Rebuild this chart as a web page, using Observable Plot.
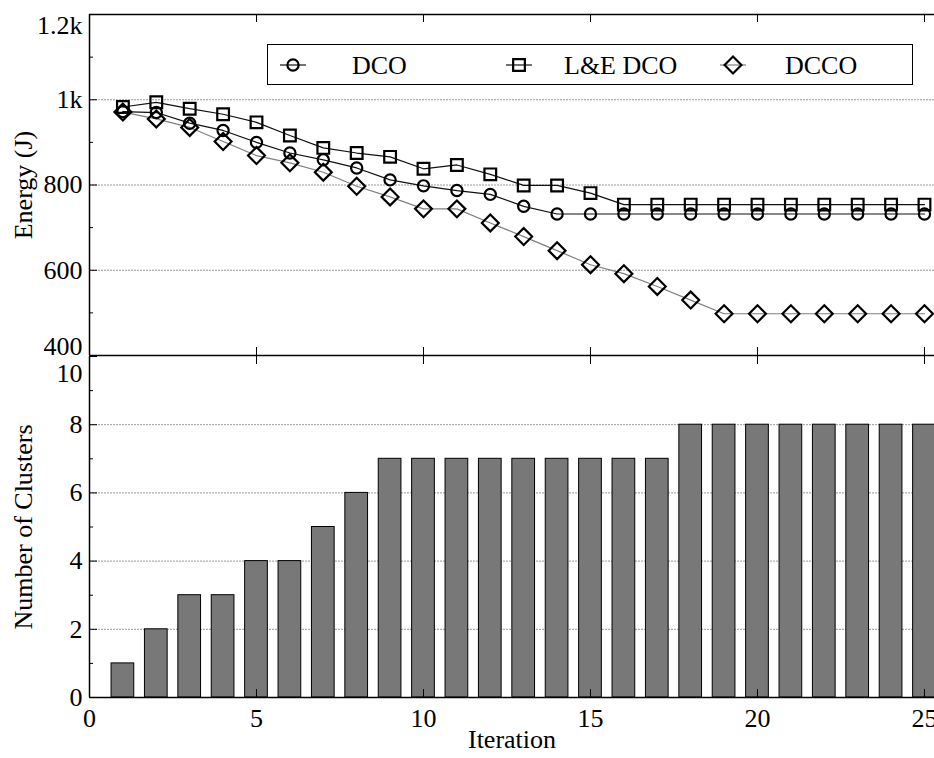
<!DOCTYPE html>
<html><head><meta charset="utf-8">
<script src="https://cdn.jsdelivr.net/npm/d3@7"></script>
<script src="https://cdn.jsdelivr.net/npm/@observablehq/plot@0.6"></script>
<style>
body{margin:0;background:#fff;}
#wrap{position:relative;width:934px;height:758px;overflow:hidden;font-family:"Liberation Serif","Times New Roman",serif;}
#wrap svg{display:block;font-family:"Liberation Serif","Times New Roman",serif !important;}
#wrap svg text{font-family:"Liberation Serif","Times New Roman",serif !important;}
#legend{position:absolute;left:267px;top:44px;width:646px;height:41px;border:1px solid #000;background:#fff;box-sizing:border-box;}
#legend .item{position:absolute;top:0;height:41px;display:flex;align-items:center;font-size:26px;color:#000;}
#legend svg{position:absolute;}
</style></head><body><div id="wrap"></div>
<script>
// ---- data ----
const iterations = [1,2,3,4,5,6,7,8,9,10,11,12,13,14,15,16,17,18,19,20,21,22,23,24,25];
const dco   = [972,970,945,928,900,875,859,840,812,798,787,778,750,732,732,732,732,732,732,732,732,732,732,732,732];
const leDco = [983,994,979,966,947,916,887,875,866,838,847,825,799,799,781,754,754,754,754,754,754,754,754,754,754];
const dcco  = [971,955,935,902,869,852,830,797,772,744,744,711,679,646,613,592,562,530,498,498,498,498,498,498,498];
const clusters = [1,2,3,3,4,4,5,6,7,7,7,7,7,7,7,7,7,8,8,8,8,8,8,8,8];
const seriesNames = ["DCO","L&E DCO","DCCO"];
const energyTicks = [400,600,800,1000,1200];
const energyTickLabels = ["400","600","800","1k","1.2k"];
const energyMinor = [500,700,900,1100];
const clusterTicks = [0,2,4,6,8,10];
const clusterMinor = [1,3,5,7,9];
const xTicks = [0,5,10,15,20,25];

// ---- layout ----
const FONT = '"Liberation Serif","Times New Roman",serif';
const FS = 26;
const STYLE = `font-family: ${FONT}; font-size: ${FS}px; background: white; color: black; overflow: visible;`;
const txt = {fontFamily: "Liberation Serif", fontSize: FS};
const W = 934, ML = 89;
const xDomain = [0, 25.3];
const topH = 356, topMT = 14, topMB = 1;
const botH = 402, botMT = 0, botMB = 61;
const topFrameH = topH - topMT - topMB;
const botFrameH = botH - botMT - botMB;
const frameW = W - ML;
const majorLen = 8, minorLen = 4;
const grid = {stroke:"#9a9a9a", strokeDasharray:"2,1", strokeWidth:1};
const eLabel = d => energyTickLabels[energyTicks.indexOf(d)];

const rows = (vals) => iterations.map((x,i)=>({x, y: vals[i]}));
const dcoRows = rows(dco), leRows = rows(leDco), dccoRows = rows(dcco);
const clusterRows = rows(clusters);

const topPlot = Plot.plot({
  width: W, height: topH, marginLeft: ML, marginRight: 0, marginTop: topMT, marginBottom: topMB,
  style: STYLE,
  x: {domain: xDomain, axis: null},
  y: {domain: [400, 1200], axis: null},
  marks: [
    Plot.ruleY(energyTicks.filter(d => d > 400 && d < 1200), grid),
    Plot.tickY(energyTicks, {insetRight: frameW - majorLen, stroke: "black"}),
    Plot.tickY(energyMinor, {insetRight: frameW - minorLen, stroke: "black"}),
    Plot.tickX(xTicks, {insetTop: topFrameH - majorLen, stroke: "black"}),
    Plot.tickX(xTicks, {insetBottom: topFrameH - majorLen, stroke: "black"}),
    Plot.ruleY([400, 1200], {stroke: "black", strokeWidth: 1.5}),
    Plot.ruleX([0], {stroke: "black", strokeWidth: 1.5}),
    Plot.line(dccoRows, {x: "x", y: "y", stroke: "#808080", strokeWidth: 1.2}),
    Plot.line(dcoRows, {x: "x", y: "y", stroke: "#111", strokeWidth: 1.2}),
    Plot.line(leRows, {x: "x", y: "y", stroke: "#111", strokeWidth: 1.2}),
    Plot.dot(dccoRows, {x: "x", y: "y", symbol: d3.symbolDiamond2, r: 7.6, stroke: "black", strokeWidth: 2.2, fill: "none"}),
    Plot.dot(leRows, {x: "x", y: "y", symbol: "square", r: 6.6, stroke: "black", strokeWidth: 2.2, fill: "none"}),
    Plot.dot(dcoRows, {x: "x", y: "y", symbol: "circle", r: 5.6, stroke: "black", strokeWidth: 2.2, fill: "none"}),
    Plot.axisY({ticks: [600, 800, 1000], tickFormat: eLabel, tickSize: 0, tickPadding: 7, label: null, ...txt}),
    Plot.axisY({ticks: [1200], tickFormat: eLabel, tickSize: 0, tickPadding: 7, dy: 11, label: null, ...txt}),
    Plot.axisY({ticks: [400], tickFormat: eLabel, tickSize: 0, tickPadding: 7, dy: -9, label: null, ...txt}),
    Plot.text(["Energy (J)"], {frameAnchor: "left", textAnchor: "middle", rotate: -90, dx: -66, fill: "black", ...txt})
  ]
});

const botPlot = Plot.plot({
  width: W, height: botH, marginLeft: ML, marginRight: 0, marginTop: botMT, marginBottom: botMB,
  style: STYLE,
  x: {domain: xDomain, axis: null},
  y: {domain: [0, 10], axis: null},
  marks: [
    Plot.ruleY([2, 4, 6, 8], grid),
    Plot.rectY(clusterRows, {x1: d => d.x - 0.34, x2: d => d.x + 0.34, y: "y", fill: "#787878", stroke: "black", strokeWidth: 1}),
    Plot.tickY(clusterTicks, {insetRight: frameW - majorLen, stroke: "black"}),
    Plot.tickY(clusterMinor, {insetRight: frameW - minorLen, stroke: "black"}),
    Plot.tickX(xTicks, {insetTop: botFrameH - majorLen, stroke: "black"}),
    Plot.tickX(xTicks, {insetBottom: botFrameH - majorLen, stroke: "black"}),
    Plot.ruleY([0], {stroke: "black", strokeWidth: 1.5}),
    Plot.ruleX([0], {stroke: "black", strokeWidth: 1.5}),
    Plot.axisY({ticks: [0, 2, 4, 6, 8], tickSize: 0, tickPadding: 7, label: null, ...txt}),
    Plot.axisY({ticks: [10], tickSize: 0, tickPadding: 7, dy: 17, label: null, ...txt}),
    Plot.axisX({ticks: xTicks, tickSize: 0, tickPadding: 11, label: null, ...txt}),
    Plot.text(["Number of Clusters"], {frameAnchor: "left", textAnchor: "middle", rotate: -90, dx: -66, fill: "black", ...txt}),
    Plot.text(["Iteration"], {frameAnchor: "bottom", dy: 50, fill: "black", ...txt})
  ]
});

const wrap = document.getElementById("wrap");
wrap.appendChild(topPlot);
wrap.appendChild(botPlot);

// ---- legend (HTML overlay) ----
const legend = document.createElement("div");
legend.id = "legend";
const legendItems = [
  {name: seriesNames[0], sym: d3.symbolCircle, r: 5.6, line: "#111", sx: 25, tx: 84},
  {name: seriesNames[1], sym: d3.symbolSquare, r: 6.6, line: "#111", sx: 251, tx: 296},
  {name: seriesNames[2], sym: d3.symbolDiamond2, r: 7.6, line: "#808080", sx: 465, tx: 517}
];
for (const it of legendItems) {
  const svg = d3.create("svg").attr("width", 40).attr("height", 30)
    .style("left", (it.sx - 20) + "px").style("top", "5px");
  svg.append("line").attr("x1", 7).attr("x2", 33).attr("y1", 15).attr("y2", 15)
    .attr("stroke", it.line).attr("stroke-width", 1.2);
  svg.append("path").attr("d", d3.symbol(it.sym, Math.PI * it.r * it.r)())
    .attr("transform", "translate(20,15)").attr("fill", "none").attr("stroke", "black").attr("stroke-width", 2.2);
  legend.appendChild(svg.node());
  const t = document.createElement("div");
  t.className = "item";
  t.style.left = it.tx + "px";
  t.textContent = it.name;
  legend.appendChild(t);
}
wrap.appendChild(legend);
</script>
</body></html>
